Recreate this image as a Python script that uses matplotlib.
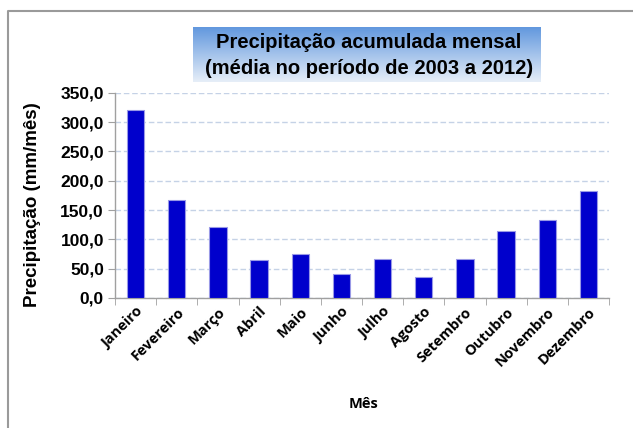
import matplotlib
matplotlib.use("Agg")
import matplotlib.pyplot as plt
import numpy as np
from matplotlib.lines import Line2D
from matplotlib.ticker import FuncFormatter

months = ["Janeiro", "Fevereiro", "Março", "Abril", "Maio", "Junho", "Julho",
          "Agosto", "Setembro", "Outubro", "Novembro", "Dezembro"]
precip = [320.0, 166.5, 121.0, 64.2, 75.6, 40.3, 67.0, 35.8, 66.0, 113.7, 132.4, 181.8]
yticks = [0, 50, 100, 150, 200, 250, 300, 350]

W, H = 633, 428
fig = plt.figure(figsize=(W / 100, H / 100), dpi=100)
fig.patch.set_facecolor("white")

# outer frame (top and left lines)
fig.add_artist(Line2D([8 / W, 8 / W, 1.0], [0.0, 1 - 11 / H, 1 - 11 / H],
                      transform=fig.transFigure, color="#9a9a9a", lw=1.5))

ax = fig.add_axes([115 / W, 1 - 298 / H, (609 - 115) / W, (298 - 92.7) / H])
x = np.arange(len(months))
ax.bar(x, precip, width=0.42, color="#0000CC", edgecolor="#9999e6", linewidth=0.8, zorder=3)

ax.set_xlim(-0.5, len(months) - 0.5)
ax.set_ylim(0, 350)
ax.set_yticks(yticks)
ax.yaxis.set_major_formatter(FuncFormatter(lambda v, p: f"{v:.1f}".replace(".", ",")))
ax.grid(axis="y", color="#c5d2e6", linestyle=(0, (4, 2)), linewidth=1.0, zorder=0)
ax.set_axisbelow(True)

for s in ["top", "right"]:
    ax.spines[s].set_visible(False)
for s in ["left", "bottom"]:
    ax.spines[s].set_color("#a0a0a0")
    ax.spines[s].set_linewidth(1.0)

ax.set_xticks(x)
ax.set_xticks(np.arange(-0.5, len(months), 1.0), minor=True)
ax.tick_params(axis="x", which="major", length=0, pad=5)
ax.tick_params(axis="x", which="minor", length=5, color="#a0a0a0", direction="out")
ax.tick_params(axis="y", length=5, color="#a0a0a0", direction="out", pad=3)
ax.set_xticklabels(months, rotation=45, ha="right", rotation_mode="anchor",
                   fontfamily="Open Sans", fontweight="bold", fontsize=10.5)
for lbl in ax.get_yticklabels():
    lbl.set_fontfamily("Liberation Sans")
    lbl.set_fontweight("bold")
    lbl.set_fontsize(12.5)

fig.text(33 / W, 1 - 205 / H, "Precipitação (mm/mês)", rotation=90, ha="center", va="center",
         fontfamily="Liberation Sans", fontweight="bold", fontsize=13.5)
fig.text(363 / W, 1 - 404 / H, "Mês", ha="center", va="center",
         fontfamily="Open Sans", fontweight="bold", fontsize=10.5)

# title box with gradient
tax = fig.add_axes([193 / W, 1 - 81.7 / H, (541 - 193) / W, (81.7 - 27.3) / H])
top = np.array([0x62, 0x98, 0xde]) / 255
bot = np.array([0xe6, 0xee, 0xf8]) / 255
t = np.linspace(0, 1, 100)[:, None]
grad = (top[None, :] * (1 - t) + bot[None, :] * t)[:, None, :]
tax.imshow(grad, aspect="auto", extent=[0, 1, 0, 1], origin="upper")
tax.set_axis_off()
fig.text(369 / W, 1 - 42 / H, "Precipitação acumulada mensal", ha="center", va="center",
         fontfamily="Liberation Sans", fontweight="bold", fontsize=14.5)
fig.text(369 / W, 1 - 68 / H, "(média no período de 2003 a 2012)", ha="center", va="center",
         fontfamily="Liberation Sans", fontweight="bold", fontsize=14.5)

fig.savefig("out.png", dpi=100)
